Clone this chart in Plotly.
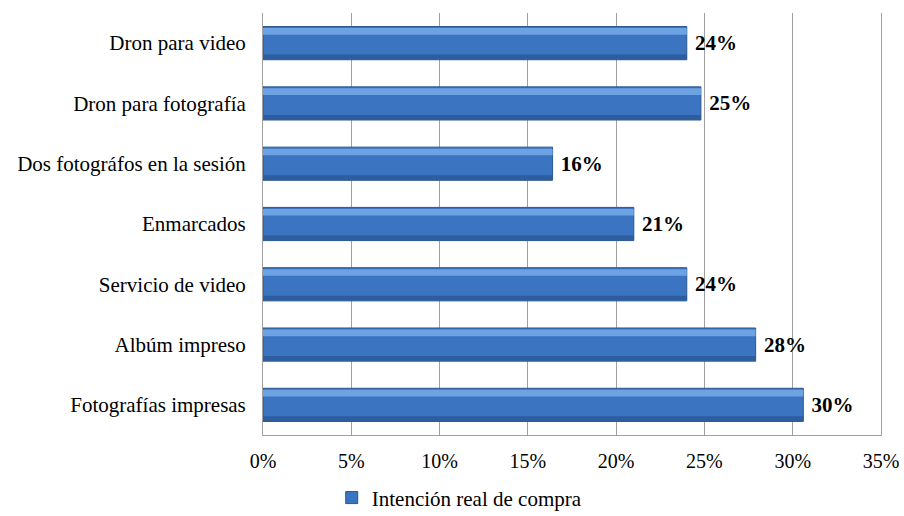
import plotly.graph_objects as go

categories = ["Fotografías impresas", "Albúm impreso", "Servicio de video", "Enmarcados",
              "Dos fotográfos en la sesión", "Dron para fotografía", "Dron para video"]
values = [30.6, 27.9, 24.0, 21.0, 16.4, 24.8, 24.0]
labels = ["30%", "28%", "24%", "21%", "16%", "25%", "24%"]
tick_vals = [0, 5, 10, 15, 20, 25, 30, 35]
tick_text = ["0%", "5%", "10%", "15%", "20%", "25%", "30%", "35%"]
series_name = "Intención real de compra"

serif = "Liberation Serif, Times New Roman, serif"

fig = go.Figure()
fig.add_trace(go.Bar(
    y=categories, x=values, orientation="h", name=series_name,
    width=0.55,
    marker=dict(color="#3b74c0", line=dict(color="#2a5590", width=1)),
    text=["\u00a0<b>" + t + "</b>" for t in labels], textposition="outside", cliponaxis=False,
    textfont=dict(family=serif, size=21, color="#000000"),
    hoverinfo="x+y",
))
# lighter top strip and darker bottom strip for a slight 3D look
fig.add_trace(go.Bar(
    y=categories, x=values, orientation="h", showlegend=False,
    width=0.11, offset=0.14,
    marker=dict(color="#6ea3e3", line=dict(width=0)),
    hoverinfo="skip",
))
fig.add_trace(go.Bar(
    y=categories, x=values, orientation="h", showlegend=False,
    width=0.08, offset=-0.27,
    marker=dict(color="#2d5d9e", line=dict(width=0)),
    hoverinfo="skip",
))

fig.update_layout(
    width=904, height=516,
    margin=dict(l=263, r=23, t=13, b=81, autoexpand=False),
    paper_bgcolor="white", plot_bgcolor="white",
    barmode="overlay",
    font=dict(family=serif, size=20, color="#000000"),
    showlegend=True,
    legend=dict(orientation="h", xref="container", yref="container",
                x=0.508, y=0.035, xanchor="center", yanchor="middle",
                font=dict(family=serif, size=21), itemwidth=30),
    xaxis=dict(range=[0, 35], tickvals=tick_vals, ticktext=tick_text,
               showgrid=True, gridcolor="#a0a0a0", gridwidth=1,
               showline=True, linecolor="#a0a0a0", mirror=False,
               zeroline=False, ticks="", ticklabelstandoff=8,
               tickfont=dict(family=serif, size=20)),
    yaxis=dict(showline=True, linecolor="#a0a0a0", mirror=True, ticks="",
               ticklabelstandoff=12, tickfont=dict(family=serif, size=21),
               autorange=True),
)
fig.write_html("out.html")
